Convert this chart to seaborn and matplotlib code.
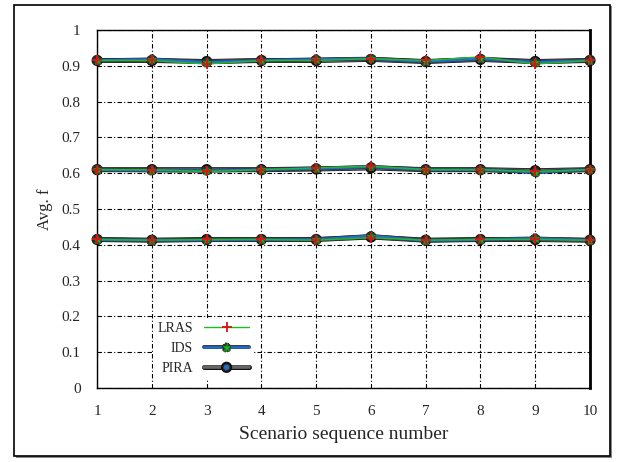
import numpy as np
import pandas as pd
import matplotlib
matplotlib.use("Agg")
import matplotlib.pyplot as plt
import matplotlib.patheffects as pe
from matplotlib.ticker import FuncFormatter
from matplotlib.patches import Rectangle
import seaborn as sns

x = [1, 2, 3, 4, 5, 6, 7, 8, 9, 10]
methods = ["LRAS", "IDS", "PIRA"]
# three groups of curves (top / middle / bottom) for each method
lras_top = [0.915, 0.915, 0.905, 0.915, 0.915, 0.920, 0.915, 0.925, 0.905, 0.915]
ids_top = [0.915, 0.918, 0.910, 0.915, 0.918, 0.920, 0.912, 0.920, 0.910, 0.915]
pira_top = [0.915, 0.915, 0.912, 0.915, 0.915, 0.918, 0.912, 0.918, 0.912, 0.915]
lras_mid = [0.610, 0.610, 0.605, 0.610, 0.615, 0.620, 0.610, 0.610, 0.605, 0.610]
ids_mid = [0.610, 0.608, 0.607, 0.610, 0.613, 0.618, 0.610, 0.610, 0.603, 0.610]
pira_mid = [0.610, 0.610, 0.610, 0.610, 0.612, 0.615, 0.610, 0.610, 0.607, 0.610]
lras_bot = [0.415, 0.413, 0.415, 0.415, 0.413, 0.420, 0.413, 0.415, 0.415, 0.413]
ids_bot = [0.415, 0.413, 0.414, 0.415, 0.415, 0.425, 0.412, 0.415, 0.418, 0.413]
pira_bot = [0.415, 0.413, 0.415, 0.415, 0.415, 0.422, 0.413, 0.415, 0.415, 0.413]
yticks = [0, 0.1, 0.2, 0.3, 0.4, 0.5, 0.6, 0.7, 0.8, 0.9, 1]

series = {
    "PIRA": [pira_top, pira_mid, pira_bot],
    "IDS": [ids_top, ids_mid, ids_bot],
    "LRAS": [lras_top, lras_mid, lras_bot],
}

sns.set_theme(style="white")
plt.rcParams["font.family"] = ["Liberation Serif", "DejaVu Serif"]

fig = plt.figure(figsize=(6.23, 4.62), dpi=100)
# outer frame with shadow
fig.patches.append(Rectangle((0.026, 0.008), 0.957, 0.978, transform=fig.transFigure,
                             facecolor="#888888", edgecolor="none", zorder=-2))
fig.patches.append(Rectangle((0.022, 0.013), 0.957, 0.976, transform=fig.transFigure,
                             facecolor="white", edgecolor="black", lw=1.2, zorder=-1))
ax = fig.add_axes([0.156, 0.160, 0.791, 0.775])

styles = {
    "LRAS": dict(color="#22bb22", lw=1.0, marker="+", ms=7, mec="#dd1111", mew=1.3),
    "IDS": dict(color="#1f6fd0", lw=1.8, marker="*", ms=6, mec="#119911", mfc="#22bb22",
                path_effects=[pe.Stroke(linewidth=2.8, foreground="#333333"), pe.Normal()]),
    "PIRA": dict(color="#666666", lw=2.6, marker="o", ms=4.5, mec="#333333", mfc="#1f6fd0", mew=0.8,
                 path_effects=[pe.Stroke(linewidth=3.6, foreground="#111111"), pe.Normal()]),
}

handles = {}
for m in ["PIRA", "IDS", "LRAS"]:
    for i, vals in enumerate(series[m]):
        df = pd.DataFrame({"x": x, "y": vals})
        st = dict(styles[m])
        pes = st.pop("path_effects", None)
        sns.lineplot(data=df, x="x", y="y", ax=ax, legend=False, zorder=3, **st)
        ln = ax.lines[-1]
        if pes:
            ln.set_path_effects(pes)
        ln.set_clip_on(False)
        if i == 0:
            handles[m] = ln

ax.set_xlim(1, 10)
ax.set_ylim(0, 1)
ax.set_xticks(x)
ax.set_yticks(yticks)
ax.yaxis.set_major_formatter(FuncFormatter(lambda v, p: f"{v:g}"))
ax.tick_params(axis="both", labelsize=11, length=0, pad=12)
ax.grid(True, color="black", lw=0.8, ls=(0, (4, 2, 1, 2)))
for s in ax.spines.values():
    s.set_color("black")
    s.set_linewidth(1.0)
ax.spines["right"].set_linewidth(2.0)

ax.set_xlabel("Scenario sequence number", fontsize=14, labelpad=6)
ax.set_ylabel("Avg. f", fontsize=12, labelpad=6)

leg = ax.legend([handles[m] for m in methods], methods, loc="lower left",
                bbox_to_anchor=(0.10, 0.005), markerfirst=False, frameon=True,
                fontsize=10, handlelength=3.2, labelspacing=0.5, borderpad=0.3)
leg.get_frame().set_edgecolor("none")
leg.get_frame().set_facecolor("white")
leg.get_frame().set_alpha(1)
leg.set_zorder(5)

fig.savefig("out.png", dpi=100)
